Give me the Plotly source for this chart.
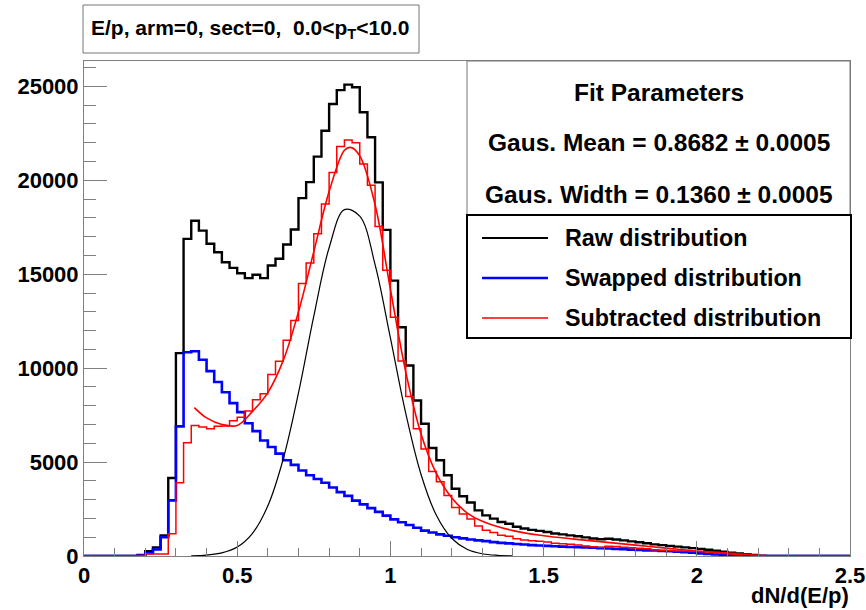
import plotly.graph_objects as go

# ---------------- data ----------------
bin_width = 0.025
n_bins = 100

raw_counts = [0, 0, 0, 0, 0, 0, 0, 50, 250, 450,
              1100, 4150, 10800, 16880, 17850, 17320, 16620, 16170, 15640, 15340,
              15050, 14790, 14970, 14790, 15460, 15820, 16580, 17380, 19050, 19900,
              21260, 22640, 24060, 24800, 25090, 24950, 23620, 22290, 19890, 17360,
              14660, 12180, 10140, 8280, 7040, 5750, 5100, 4300, 3580, 3180,
              2850, 2430, 2160, 1990, 1810, 1720, 1560, 1460, 1390, 1340,
              1280, 1200, 1150, 1100, 1050, 990, 930, 890, 920, 880,
              830, 780, 730, 680, 620, 580, 540, 500, 460, 420,
              380, 330, 280, 230, 180, 130, 90, 50, 20, 0,
              0, 0, 0, 0, 0, 0, 0, 0, 0, 0]

swapped_counts = [0, 0, 0, 0, 0, 0, 0, 30, 150, 350,
                  1000, 2960, 6900, 10850, 10900, 10450, 9840, 9260, 8720, 8140,
                  7660, 7070, 6650, 6150, 5800, 5450, 5100, 4850, 4550, 4300,
                  4100, 3900, 3650, 3400, 3200, 2950, 2750, 2550, 2350, 2150,
                  1950, 1800, 1650, 1500, 1350, 1250, 1150, 1080, 1000, 940,
                  880, 830, 790, 740, 700, 670, 640, 610, 580, 560,
                  540, 520, 500, 480, 470, 460, 440, 420, 400, 380,
                  360, 340, 320, 300, 290, 270, 250, 230, 200, 170,
                  140, 110, 80, 60, 40, 20, 0, 0, 0, 0,
                  0, 0, 0, 0, 0, 0, 0, 0, 0, 0]

subtracted_counts = [0, 0, 0, 0, 0, 0, 0, 20, 100, 100,
                     100, 1190, 3900, 6030, 6950, 6870, 6780, 6910, 6920, 7200,
                     7390, 7720, 8320, 8640, 9660, 10370, 11480, 12530, 14500, 15600,
                     17160, 18740, 20410, 21800, 22150, 22000, 20870, 19740, 17540, 15210,
                     12710, 10380, 8490, 6780, 5690, 4500, 3950, 3220, 2580, 2240,
                     1970, 1600, 1370, 1250, 1110, 1050, 920, 850, 810, 780,
                     740, 680, 650, 620, 580, 530, 490, 470, 520, 500,
                     470, 440, 410, 380, 330, 310, 290, 270, 260, 250,
                     240, 220, 200, 170, 140, 110, 90, 50, 20, 0,
                     0, 0, 0, 0, 0, 0, 0, 0, 0, 0]

# total fit (red smooth curve)
fit_x = [0.36, 0.40, 0.45, 0.50, 0.55, 0.60, 0.65, 0.70, 0.75, 0.80, 0.85, 0.87,
         0.90, 0.95, 1.00, 1.05, 1.10, 1.15, 1.20, 1.25, 1.30, 1.40, 1.50, 1.60,
         1.70, 1.80, 1.90, 2.00, 2.10, 2.15]
fit_y = [7900, 7350, 7000, 6950, 7700, 8700, 10400, 13000, 16200, 19400, 21600, 21750,
         21300, 18700, 14200, 9800, 6500, 4400, 3100, 2300, 1850, 1350, 1080, 900,
         740, 580, 420, 270, 120, 50]

# Gaussian component (black smooth curve)
gaus_x = [0.35, 0.40, 0.45, 0.50, 0.55, 0.60, 0.65, 0.70, 0.75, 0.80, 0.85,
          0.90, 0.95, 1.00, 1.05, 1.10, 1.15, 1.20, 1.25, 1.30, 1.35, 1.40]
gaus_y = [13, 50, 165, 478, 1210, 2670, 5150, 8680, 12770, 16410, 18440,
          18090, 15510, 11610, 7600, 4340, 2170, 945, 360, 120, 35, 9]

x_tick_vals = [0, 0.5, 1, 1.5, 2, 2.5]
x_tick_text = ["0", "0.5", "1", "1.5", "2", "2.5"]
y_tick_vals = [0, 5000, 10000, 15000, 20000, 25000]
y_tick_text = ["0", "5000", "10000", "15000", "20000", "25000"]

title_text = "E/p, arm=0, sect=0,  0.0&lt;p<sub>T</sub>&lt;10.0"
x_title = "dN/d(E/p)"
stats_lines = ["Fit Parameters",
               "Gaus. Mean = 0.8682 \u00b1 0.0005",
               "Gaus. Width = 0.1360 \u00b1 0.0005"]
legend_labels = ["Raw distribution", "Swapped distribution", "Subtracted distribution"]
legend_colors = ["#000000", "#0000ff", "#ff0000"]
legend_widths = [2.2, 2.6, 1.5]

# ---------------- figure ----------------
W, H = 866, 610
L, R, T, B = 84, 16, 61, 54
PW, PH = W - L - R, H - T - B


def px(xp):
    return (xp - L) / PW


def py(yp):
    return (H - B - yp) / PH


edges = [i * bin_width for i in range(n_bins + 1)]


def steps(vals):
    return edges, list(vals) + [vals[-1]]


FONT = "Liberation Sans, Arial, Helvetica, sans-serif"

fig = go.Figure()
for vals, col, w in [(raw_counts, "#000000", 2.4),
                     (swapped_counts, "#0000ff", 2.6),
                     (subtracted_counts, "#ff0000", 1.5)]:
    sx, sy = steps(vals)
    fig.add_trace(go.Scatter(x=sx, y=sy, mode="lines", line=dict(color=col, width=w, shape="hv"),
                             hoverinfo="skip"))

fig.add_trace(go.Scatter(x=fit_x, y=fit_y, mode="lines",
                         line=dict(color="#ff0000", width=1.6, shape="spline", smoothing=1.0),
                         hoverinfo="skip"))
fig.add_trace(go.Scatter(x=gaus_x, y=gaus_y, mode="lines",
                         line=dict(color="#000000", width=1.2, shape="spline", smoothing=1.0),
                         hoverinfo="skip"))

axis_col = "#808080"
fig.update_layout(
    width=W, height=H, autosize=False,
    margin=dict(l=L, r=R, t=T, b=B, pad=0, autoexpand=False),
    plot_bgcolor="white", paper_bgcolor="white",
    showlegend=False,
    font=dict(family=FONT, color="black"),
    xaxis=dict(range=[0, 2.5], showgrid=False, zeroline=False, showline=True, mirror=True,
               automargin=False,
               linecolor=axis_col, linewidth=1,
               ticks="inside", ticklen=15, tickwidth=1, tickcolor=axis_col,
               tickvals=x_tick_vals, ticktext=x_tick_text,
               tickfont=dict(family=FONT, size=22, weight="bold", color="black"),
               minor=dict(ticks="inside", ticklen=8, dtick=0.1, tick0=0, tickcolor=axis_col,
                          showgrid=False)),
    yaxis=dict(range=[0, 26350], showgrid=False, zeroline=False, showline=True, mirror=True,
               automargin=False,
               linecolor=axis_col, linewidth=1,
               ticks="inside", ticklen=23, tickwidth=1, tickcolor=axis_col,
               tickvals=y_tick_vals, ticktext=y_tick_text,
               tickfont=dict(family=FONT, size=22, weight="bold", color="black"),
               minor=dict(ticks="inside", ticklen=12, dtick=1000, tick0=0, tickcolor=axis_col,
                          showgrid=False)),
)

shapes = []
annotations = []

# title box
shapes.append(dict(type="rect", xref="paper", yref="paper",
                   x0=px(83), x1=px(419), y0=py(53), y1=py(5),
                   line=dict(color="#777777", width=1), fillcolor="white", layer="above"))
annotations.append(dict(xref="paper", yref="paper", x=px(250), y=py(29), text=title_text,
                        showarrow=False, xanchor="center", yanchor="middle",
                        font=dict(family=FONT, size=21, weight="bold", color="black")))

# stats box
shapes.append(dict(type="rect", xref="paper", yref="paper",
                   x0=px(467), x1=px(850), y0=py(215), y1=py(61),
                   line=dict(color="#777777", width=1), fillcolor="white", layer="above"))
for txt, yy in zip(stats_lines, [93, 143, 195]):
    annotations.append(dict(xref="paper", yref="paper", x=px(659), y=py(yy), text=txt,
                            showarrow=False, xanchor="center", yanchor="middle",
                            font=dict(family=FONT, size=24.5, weight="bold", color="black")))

# legend box
shapes.append(dict(type="rect", xref="paper", yref="paper",
                   x0=px(467), x1=px(851), y0=py(338), y1=py(215),
                   line=dict(color="black", width=2), fillcolor="white", layer="above"))
for lab, col, lw, yy in zip(legend_labels, legend_colors, legend_widths, [238, 278, 318]):
    shapes.append(dict(type="line", xref="paper", yref="paper",
                       x0=px(482), x1=px(548), y0=py(yy), y1=py(yy),
                       line=dict(color=col, width=lw), layer="above"))
    annotations.append(dict(xref="paper", yref="paper", x=px(563), y=py(yy), text=lab,
                            showarrow=False, xanchor="left", yanchor="middle",
                            font=dict(family=FONT, size=23.3, weight="bold", color="black")))

# x axis title
annotations.append(dict(xref="paper", yref="paper", x=px(851), y=py(595), text=x_title,
                        showarrow=False, xanchor="right", yanchor="middle",
                        font=dict(family=FONT, size=22, weight="bold", color="black")))

fig.update_layout(shapes=shapes, annotations=annotations)
fig.write_html("out.html",
               config={"displayModeBar": False, "staticPlot": True},
               post_script="document.body.style.margin='0';document.body.style.padding='0';")
